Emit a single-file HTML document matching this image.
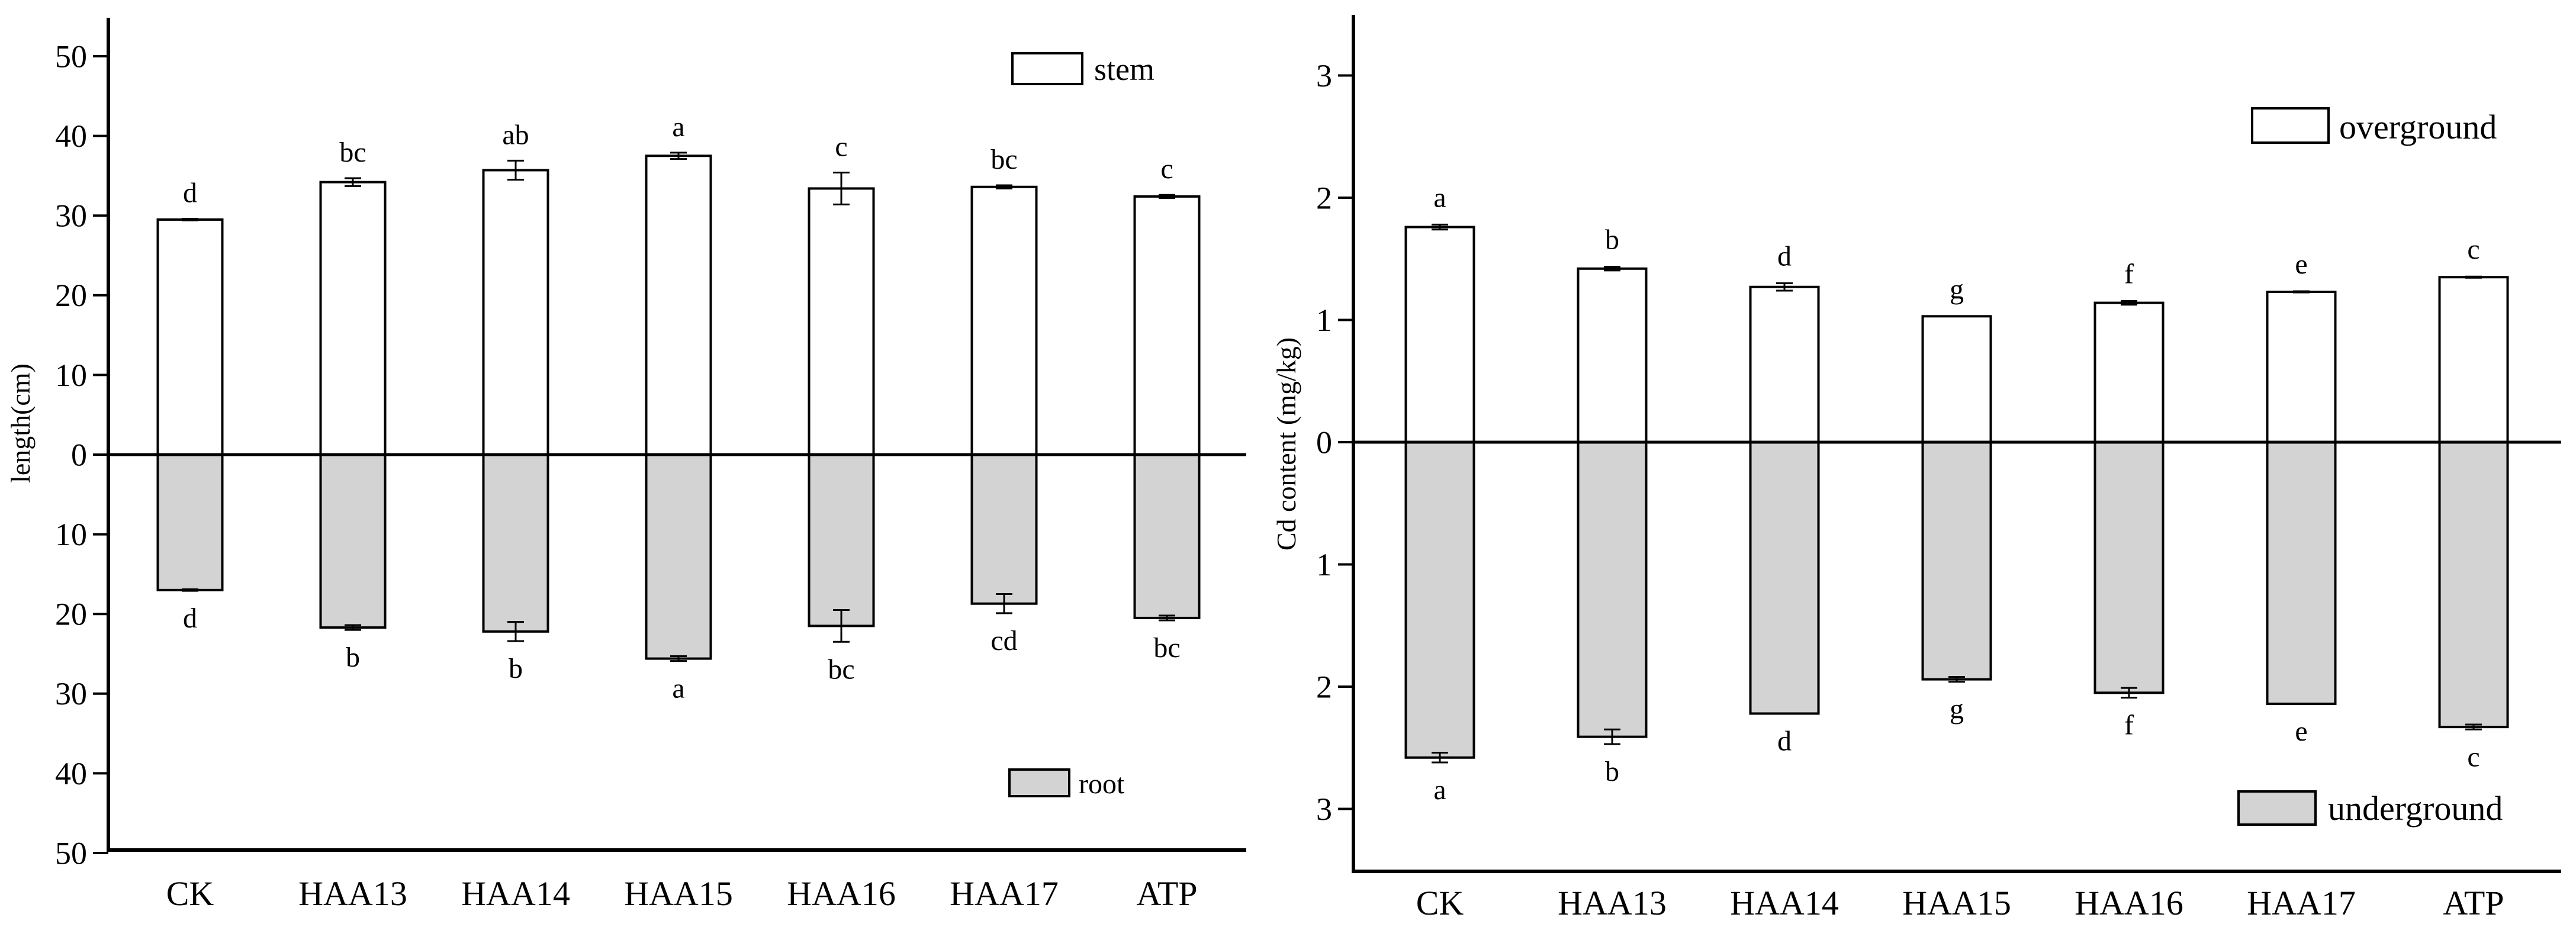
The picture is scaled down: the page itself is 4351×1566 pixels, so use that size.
<!DOCTYPE html>
<html><head><meta charset="utf-8"><style>
html,body{margin:0;padding:0;background:#fff;}
svg, svg text{font-family:"Liberation Serif","DejaVu Serif",serif;}
</style></head><body>
<svg id="chart" width="4351" height="1561" viewBox="0 0 4351 1561" xmlns="http://www.w3.org/2000/svg" font-family="Liberation Serif, serif"></svg>
<script>
const categories = ["CK","HAA13","HAA14","HAA15","HAA16","HAA17","ATP"];
const stemValues = [29.5,34.2,35.7,37.5,33.4,33.6,32.4];
const stemErrors = [0.1,0.5,1.2,0.4,2.0,0.2,0.2];
const stemLetters = ["d","bc","ab","a","c","bc","c"];
const rootValues = [17.0,21.7,22.2,25.6,21.5,18.7,20.5];
const rootErrors = [0.1,0.3,1.2,0.3,2.0,1.2,0.3];
const rootLetters = ["d","b","b","a","bc","cd","bc"];
const lengthTicks = [50,40,30,20,10,0,-10,-20,-30,-40,-50];
const overValues = [1.76,1.42,1.27,1.03,1.14,1.23,1.35];
const overErrors = [0.02,0.015,0.03,0.0,0.015,0.005,0.005];
const overLetters = ["a","b","d","g","f","e","c"];
const underValues = [2.58,2.41,2.22,1.94,2.05,2.14,2.33];
const underErrors = [0.04,0.06,0.0,0.02,0.04,0.0,0.02];
const underLetters = ["a","b","d","g","f","e","c"];
const cdTicks = [3,2,1,0,-1,-2,-3];

const NS="http://www.w3.org/2000/svg";
const svg=document.getElementById('chart');
const FF='"Liberation Serif", serif';
function mk(tag,attrs,parent){const e=document.createElementNS(NS,tag);for(const k in attrs)e.setAttribute(k,attrs[k]);if(tag==='text'){e.style.fontFamily=FF;}(parent||svg).appendChild(e);return e;}

function drawPanel(cfg){
  const g=mk('g',{});
  
  
  const y=v=>cfg.y0-v*cfg.ppu;
  const x=i=>cfg.x0+i*cfg.step;
  categories.forEach((c,i)=>{
    const cx=x(i), hw=cfg.bw/2;
    const top=y(cfg.pos[i]);
    const r=mk('rect',{x:cx-hw,y:top,width:cfg.bw,height:cfg.y0-top,fill:'#fff',stroke:'#000','stroke-width':4},g);
    
    
    const bot=y(-cfg.neg[i]);
    const r2=mk('rect',{x:cx-hw,y:cfg.y0,width:cfg.bw,height:bot-cfg.y0,fill:'#d3d3d3',stroke:'#000','stroke-width':4},g);
    
    
    [[cfg.pos[i],cfg.posErr[i]],[-cfg.neg[i],cfg.negErr[i]]].forEach(([v,e])=>{
      const a=y(v+e),b=y(v-e);
      const eb=mk('path',{d:`M${cx-14},${a}H${cx+14}M${cx},${a}V${b}M${cx-14},${b}H${cx+14}`,stroke:'#000','stroke-width':3,fill:'none'},g);
      
      
    });
    const t1=mk('text',{x:cx,y:y(cfg.pos[i]+cfg.posErr[i])-cfg.lblGap,'text-anchor':'middle','font-size':cfg.lfs},g);
    t1.textContent=cfg.posLetters[i];
    
    
    const t2=mk('text',{x:cx,y:y(-cfg.neg[i]-cfg.negErr[i])+cfg.lblGap2,'text-anchor':'middle','font-size':cfg.lfs},g);
    t2.textContent=cfg.negLetters[i];
    
    
    const tc=mk('text',{x:cx,y:cfg.catY,'text-anchor':'middle','font-size':cfg.cfs},g);
    tc.textContent=c;
    
    
  });
  const z=mk('line',{x1:cfg.ax,x2:cfg.xEnd,y1:cfg.y0,y2:cfg.y0,stroke:'#000','stroke-width':5},g);
  
  
  const ya=mk('line',{x1:cfg.ax,x2:cfg.ax,y1:cfg.axTop,y2:cfg.axBot+3,stroke:'#000','stroke-width':6},g);
  
  
  const xa=mk('line',{x1:cfg.ax-3,x2:cfg.xEnd,y1:cfg.axBot,y2:cfg.axBot,stroke:'#000','stroke-width':6},g);
  
  
  cfg.ticks.forEach(t=>{
    const ty=y(t);
    const tl=mk('line',{x1:cfg.ax-26,x2:cfg.ax,y1:ty,y2:ty,stroke:'#000','stroke-width':4},g);
    
    
    const tt=mk('text',{x:cfg.ax-36,y:ty+cfg.tfs*0.34,'text-anchor':'end','font-size':cfg.tfs},g);
    tt.textContent=Math.abs(t);
    
    
  });
  const yt=mk('text',{x:0,y:0,'text-anchor':'middle','font-size':cfg.yfs,transform:`translate(${cfg.ytx},${cfg.yty}) rotate(-90)`},g);
  yt.textContent=cfg.ytitle;
  
  
  cfg.legend.forEach(L=>{
    const lg=mk('g',{},g);
    
    
    mk('rect',{x:L.x,y:L.y,width:L.w,height:L.h,fill:L.fill,stroke:'#000','stroke-width':4},lg);
    const lt=mk('text',{x:L.tx,y:L.ty,'font-size':L.fs},lg);
    lt.textContent=L.label;
  });
}

drawPanel({name:'length-panel',x0:321,step:275,bw:109,y0:768,ppu:13.46,ax:183,axTop:30,axBot:1436,xEnd:2105,
  pos:stemValues,posErr:stemErrors,posLetters:stemLetters,neg:rootValues,negErr:rootErrors,negLetters:rootLetters,posKey:'stem',negKey:'root',
  lblGap:28,lblGap2:62,lfs:48,cfs:58,catY:1529,ticks:lengthTicks,tfs:54,ytitle:'length(cm)',ytx:50,yty:715,yfs:46,
  legend:[{label:'stem',x:1710,y:90,w:118,h:52,fill:'#fff',tx:1848,ty:135,fs:54},{label:'root',x:1705,y:1300,w:101,h:45,fill:'#d3d3d3',tx:1822,ty:1340,fs:48}]});

drawPanel({name:'cd-panel',x0:2432,step:291,bw:115,y0:747,ppu:206.5,ax:2286,axTop:25,axBot:1472,xEnd:4326,
  pos:overValues,posErr:overErrors,posLetters:overLetters,neg:underValues,negErr:underErrors,negLetters:underLetters,posKey:'overground',negKey:'underground',
  lblGap:30,lblGap2:62,lfs:48,cfs:58,catY:1545,ticks:cdTicks,tfs:54,ytitle:'Cd content (mg/kg)',ytx:2188,yty:750,yfs:46,
  legend:[{label:'overground',x:3804,y:183,w:129,h:58,fill:'#fff',tx:3951,ty:234,fs:58},{label:'underground',x:3781,y:1337,w:130,h:56,fill:'#d3d3d3',tx:3932,ty:1385,fs:58}]});
</script>
</body></html>
